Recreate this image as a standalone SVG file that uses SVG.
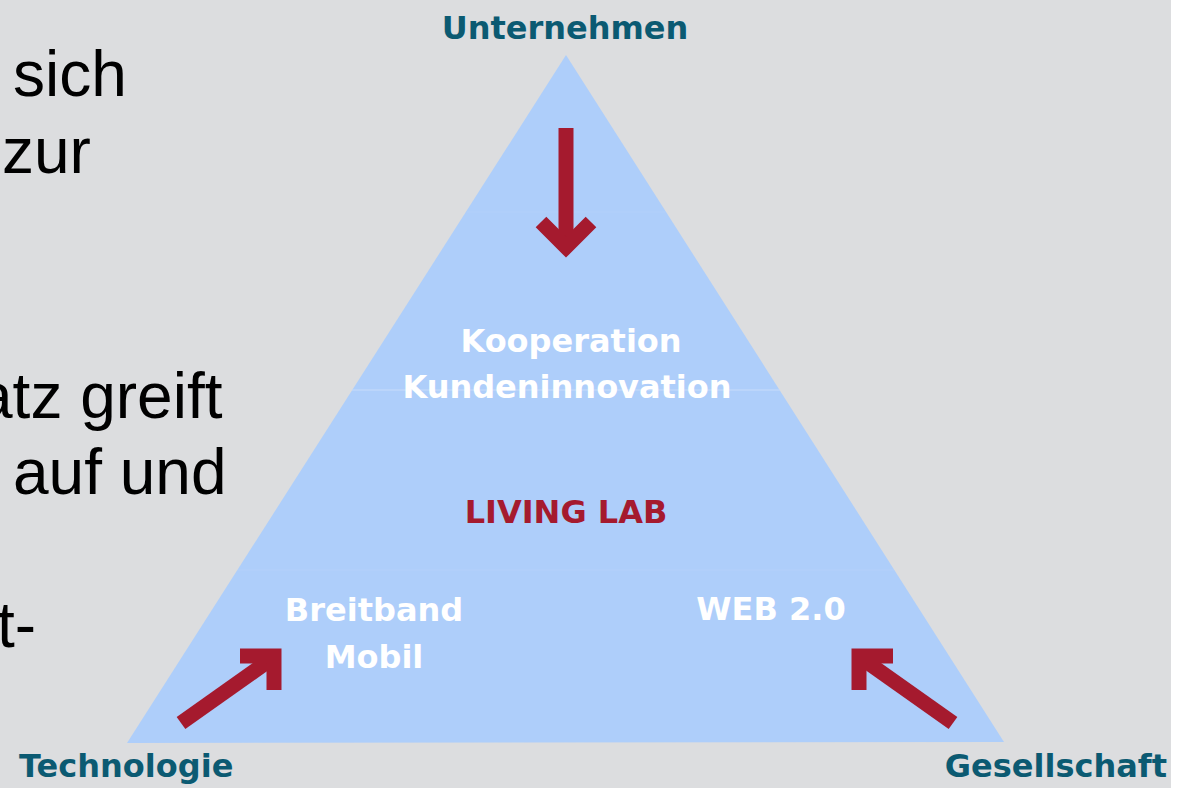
<svg xmlns="http://www.w3.org/2000/svg" width="1189" height="788" viewBox="0 0 1189 788">
<style>
.body{font-family:"Liberation Sans",Arial,sans-serif;font-size:64px;fill:#000}
.corner{font-family:"DejaVu Sans",sans-serif;font-weight:bold;font-size:32px;fill:#0B5A72}
.inner{font-family:"DejaVu Sans",sans-serif;font-weight:bold;font-size:32px;fill:#FFFFFF;text-anchor:middle}
.lab{fill:#A51A2E}
.arrow{fill:none;stroke:#A51A2E;stroke-width:15;stroke-linejoin:miter;stroke-linecap:butt}
.seam{stroke:#C8DCFA;stroke-width:1.2}
</style>
<rect x="0" y="0" width="1189" height="788" fill="#FFFFFF"/>
<rect x="0" y="0" width="1171" height="788" fill="#DCDDDF"/>
<g id="bodytext">
<text class="body" x="13" y="96">sich</text>
<text class="body" x="2" y="173">zur</text>
<text class="body" x="-23" y="418">atz greift</text>
<text class="body" x="13" y="494">auf und</text>
<text class="body" x="-3" y="647">t-</text>
</g>
<g id="triangle">
<polygon points="566,55 1004,742 127,743" fill="#AECEFA"/>
<line class="seam" x1="467" y1="212" x2="665" y2="212" opacity="0.2"/>
<line class="seam" x1="352" y1="390" x2="780" y2="390"/>
<line class="seam" x1="237" y1="570" x2="894" y2="570" opacity="0.25"/>
</g>
<g id="node-unternehmen"><text class="corner" x="565" y="39" text-anchor="middle">Unternehmen</text></g>
<g id="node-technologie"><text class="corner" x="19" y="777">Technologie</text></g>
<g id="node-gesellschaft"><text class="corner" x="1167" y="777" text-anchor="end">Gesellschaft</text></g>
<g id="node-kooperation">
<text class="inner" x="571" y="352">Kooperation</text>
<text class="inner" x="567" y="398">Kundeninnovation</text>
</g>
<g id="node-livinglab"><text class="inner lab" x="566" y="523">LIVING LAB</text></g>
<g id="node-breitband">
<text class="inner" x="374" y="621">Breitband</text>
<text class="inner" x="374" y="668">Mobil</text>
</g>
<g id="node-web"><text class="inner" x="771" y="620">WEB 2.0</text></g>
<g id="connectors">
<path class="arrow" d="M566,128 V244"/>
<path class="arrow" d="M541,222 L566,247 L591,222"/>
<path class="arrow" d="M181,723 L270,660"/>
<path class="arrow" d="M240,656 L274,656 L274,690"/>
<path class="arrow" d="M953,723 L864,660"/>
<path class="arrow" d="M893,656 L859,656 L859,690"/>
</g>
</svg>
